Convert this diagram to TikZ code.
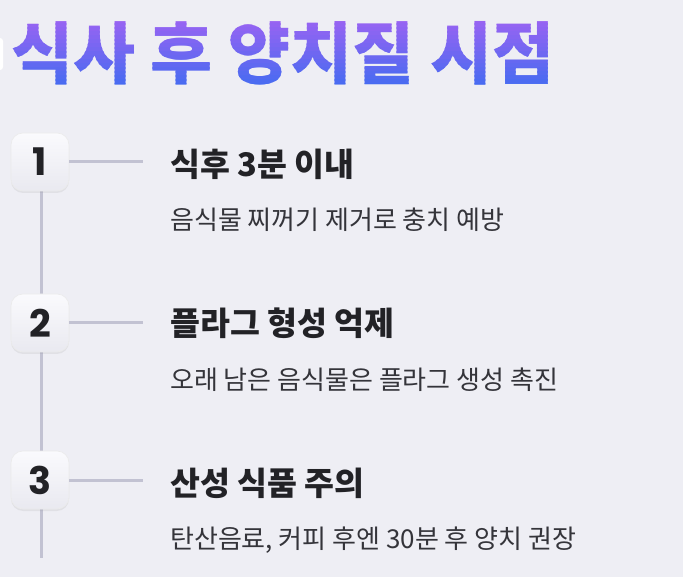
\documentclass[tikz,border=0pt]{standalone}
\usepackage{fontspec}
\setmainfont{Noto Sans CJK KR}
\newfontfamily\numfont{Poppins}
\usetikzlibrary{shadows}
\definecolor{pagebg}{HTML}{EEEEF4}
\definecolor{titletop}{HTML}{9D63F2}
\definecolor{titlebot}{HTML}{3D6CF1}
\definecolor{railgray}{HTML}{C2C2D2}
\definecolor{headink}{HTML}{222226}
\definecolor{bodyink}{HTML}{34343A}
\definecolor{boxtop}{HTML}{FAFAFD}
\definecolor{boxbot}{HTML}{E9E9F0}
\tikzset{
  stepbox/.style={rounded corners=12pt, minimum width=58pt, minimum height=58pt,
    top color=boxtop, bottom color=boxbot, draw=white!92!black, line width=0.6pt,
    drop shadow={opacity=0.12, shadow xshift=0pt, shadow yshift=-2pt},
    font=\numfont\bfseries\fontsize{38}{38}\selectfont, text=headink},
  rail/.style={draw=railgray, line width=3pt},
  headtext/.style={anchor=base west, inner sep=0pt, text=headink,
    font=\bfseries\fontsize{32.5}{32.5}\selectfont},
  bodytext/.style={anchor=base west, inner sep=0pt, text=bodyink,
    font=\fontsize{26}{26}\selectfont}
}
\begin{document}
\begin{tikzpicture}[x=1pt, y=-1pt]
  % Page
  \fill[pagebg] (0,0) rectangle (683,577);
  \useasboundingbox (0,0) rectangle (683,577);
  \fill[white, rounded corners=3pt] (-10,38) rectangle (3,70);
  % Title, in bands of colour
  \foreach \i in {0,...,19}{
    \pgfmathsetmacro{\pct}{100-\i*100/19}
    \colorlet{bandink}{titletop!\pct!titlebot}
    \begin{scope}
      \clip (0,{16+\i*4}) rectangle (683,{20.2+\i*4});
      \node[anchor=base west, inner sep=0pt, text=bandink,
        font=\bfseries\fontsize{67.5}{67.5}\selectfont] (title\i) at (11,79) {식사 후 양치질 시점};
    \end{scope}
  }
  % Rail
  \coordinate (railend) at (41,558);
  \draw[rail] (41,162) -- (railend);
  % Steps
  \node[stepbox] (box1) at (40,162) {1};
  \node[stepbox] (box2) at (40,323) {2};
  \node[stepbox] (box3) at (40,480) {3};
  \coordinate (tick1) at (143,162);
  \coordinate (tick2) at (143,323);
  \coordinate (tick3) at (143,480);
  \draw[rail] (box1.east) -- (tick1);
  \draw[rail] (box2.east) -- (tick2);
  \draw[rail] (box3.east) -- (tick3);
  % Texts
  \node[headtext] (head1) at (170,177) {식후 3분 이내};
  \node[bodytext] (body1) at (170,230) {음식물 찌꺼기 제거로 충치 예방};
  \node[headtext] (head2) at (170,336) {플라그 형성 억제};
  \node[bodytext] (body2) at (170,389) {오래 남은 음식물은 플라그 생성 촉진};
  \node[headtext] (head3) at (170,495) {산성 식품 주의};
  \node[bodytext] (body3) at (170,548) {탄산음료, 커피 후엔 30분 후 양치 권장};
\end{tikzpicture}
\end{document}
